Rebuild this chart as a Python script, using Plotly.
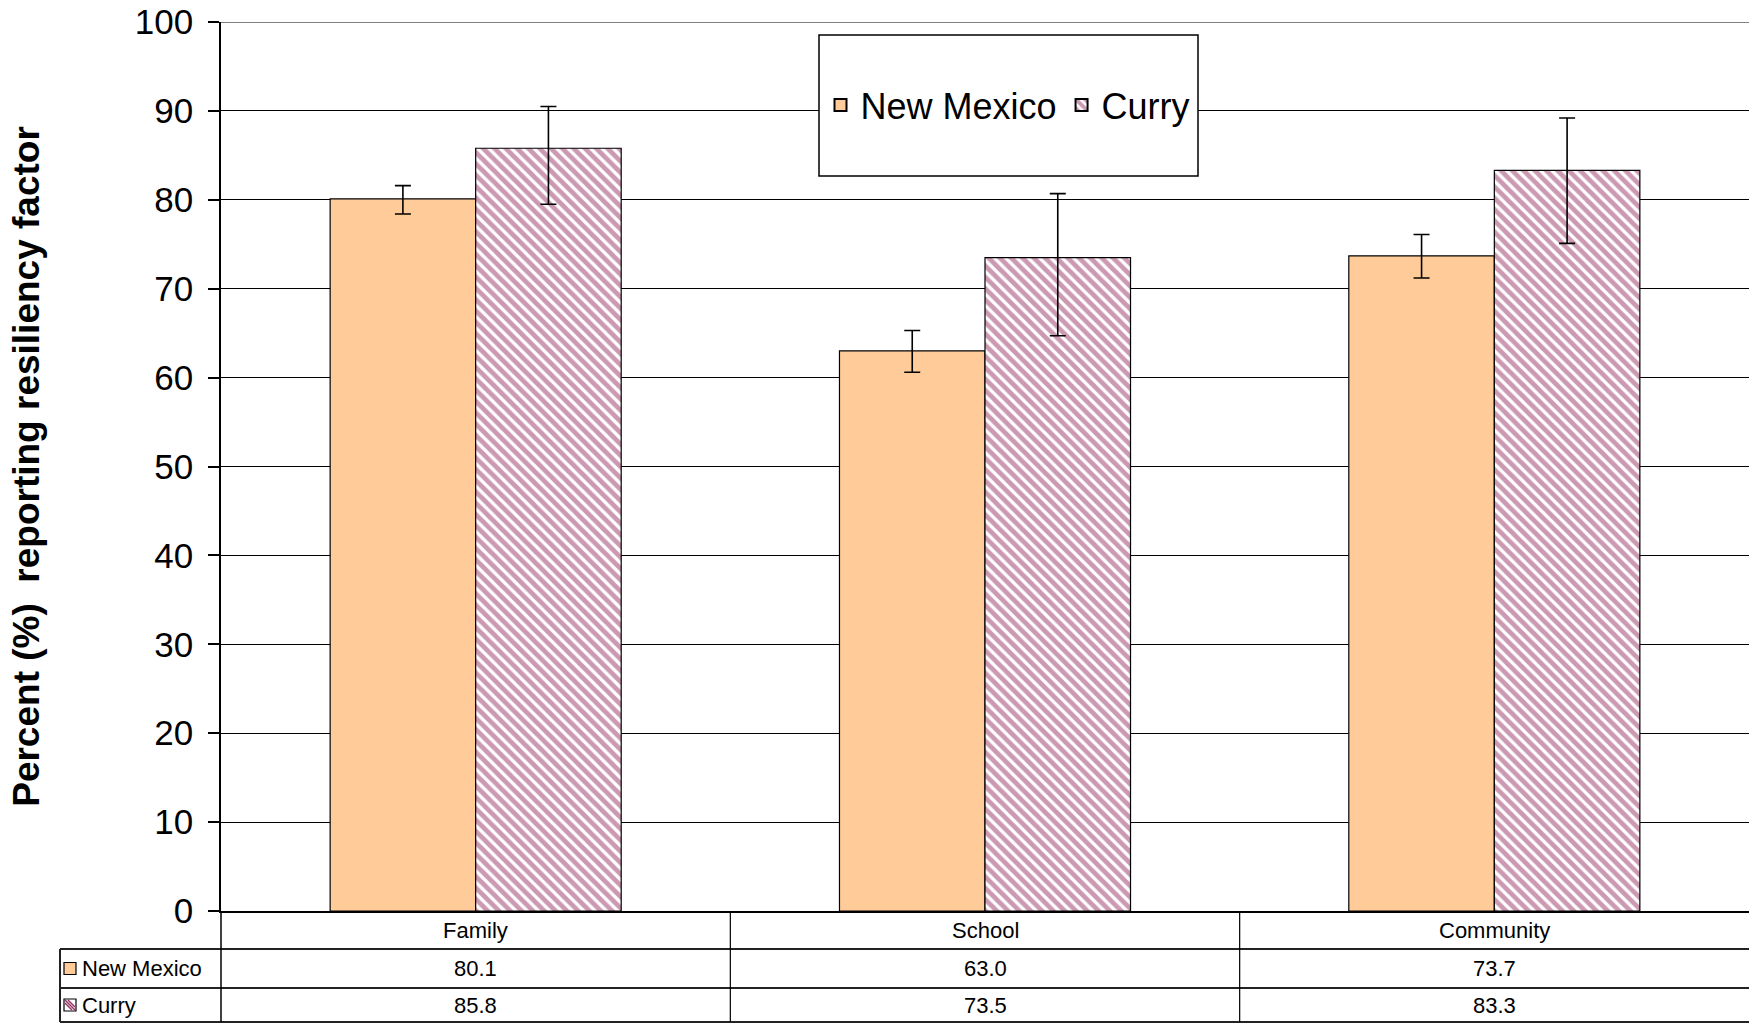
import plotly.graph_objects as go

# ---- data ----
categories = ["Family", "School", "Community"]
series_names = ["New Mexico", "Curry"]
nm_values = [80.1, 63.0, 73.7]
curry_values = [85.8, 73.5, 83.3]
nm_upper = [81.6, 65.3, 76.1]
nm_lower = [78.4, 60.6, 71.2]
curry_upper = [90.5, 80.7, 89.2]
curry_lower = [79.5, 64.7, 75.1]
y_ticks = [0, 10, 20, 30, 40, 50, 60, 70, 80, 90, 100]

# ---- layout constants (pixels) ----
W, H = 1749, 1024
L, R, T, B = 221, 0, 22, 113
PW = W - L - R
PH = H - T - B
FONT = "Liberation Sans, Arial, sans-serif"
NM_COLOR = "#FFCC99"
CURRY_COLOR = "#993366"


def px_x(x):
    return (x - L) / PW


def px_y(y):
    return (H - B - y) / PH


fig = go.Figure()

fig.add_trace(go.Bar(
    x=categories, y=nm_values, name=series_names[0],
    marker=dict(color=NM_COLOR, line=dict(color="black", width=1.2)),
    error_y=dict(type="data", symmetric=False,
                 array=[u - v for u, v in zip(nm_upper, nm_values)],
                 arrayminus=[v - l for v, l in zip(nm_values, nm_lower)],
                 color="black", thickness=1.6, width=8),
))
fig.add_trace(go.Bar(
    x=categories, y=curry_values, name=series_names[1],
    marker=dict(color="white", line=dict(color="black", width=1.2),
                pattern=dict(shape="\\", fgcolor=CURRY_COLOR, bgcolor="white",
                             size=8, solidity=0.6)),
    error_y=dict(type="data", symmetric=False,
                 array=[u - v for u, v in zip(curry_upper, curry_values)],
                 arrayminus=[v - l for v, l in zip(curry_values, curry_lower)],
                 color="black", thickness=1.6, width=8),
))

shapes = []
annotations = []

# gray top border at 100
shapes.append(dict(type="line", xref="paper", yref="y", x0=0, x1=1, y0=100, y1=100,
                   line=dict(color="#808080", width=2), layer="above"))

# legend box
shapes.append(dict(type="rect", xref="paper", yref="paper",
                   x0=px_x(819), x1=px_x(1198), y0=px_y(176), y1=px_y(35),
                   fillcolor="white", line=dict(color="black", width=1.5), layer="above"))

# table lines
row_cat_bottom = 949
row_nm_bottom = 988
row_cu_bottom = 1022
line_style = dict(color="#222222", width=2)
for yy in [row_cat_bottom, row_nm_bottom, row_cu_bottom]:
    shapes.append(dict(type="line", xref="paper", yref="paper",
                       x0=px_x(60), x1=1, y0=px_y(yy), y1=px_y(yy), line=line_style))
# left border of row-label column
shapes.append(dict(type="line", xref="paper", yref="paper",
                   x0=px_x(60), x1=px_x(60), y0=px_y(row_cat_bottom), y1=px_y(row_cu_bottom),
                   line=line_style))
# axis extension through table
shapes.append(dict(type="line", xref="paper", yref="paper",
                   x0=0, x1=0, y0=0, y1=px_y(row_cu_bottom), line=dict(color="black", width=1.5)))
# category boundaries
for i in range(1, len(categories)):
    shapes.append(dict(type="line", xref="x", yref="paper",
                       x0=i - 0.5, x1=i - 0.5, y0=0, y1=px_y(row_cu_bottom),
                       line=dict(color="black", width=1.2)))

# table text
cat_y = px_y((911 + row_cat_bottom) / 2)
nm_y = px_y((row_cat_bottom + row_nm_bottom) / 2)
cu_y = px_y((row_nm_bottom + row_cu_bottom) / 2)
for i, c in enumerate(categories):
    annotations.append(dict(x=c, y=cat_y, xref="x", yref="paper", text=c, showarrow=False,
                            font=dict(family=FONT, size=22, color="black"),
                            xanchor="center", yanchor="middle"))
    annotations.append(dict(x=c, y=nm_y, xref="x", yref="paper", text=f"{nm_values[i]:.1f}",
                            showarrow=False, font=dict(family=FONT, size=22, color="black"),
                            xanchor="center", yanchor="middle"))
    annotations.append(dict(x=c, y=cu_y, xref="x", yref="paper", text=f"{curry_values[i]:.1f}",
                            showarrow=False, font=dict(family=FONT, size=22, color="black"),
                            xanchor="center", yanchor="middle"))

# row labels with swatches
for name, yc in zip(series_names, [nm_y, cu_y]):
    annotations.append(dict(x=px_x(80), y=yc, xref="paper", yref="paper", text=name,
                            showarrow=False, font=dict(family=FONT, size=22, color="black"),
                            xanchor="left", yanchor="middle"))
sw = 6
ycen_nm = (row_cat_bottom + row_nm_bottom) / 2
ycen_cu = (row_nm_bottom + row_cu_bottom) / 2
sx0, sx1 = 64, 76
shapes.append(dict(type="rect", xref="paper", yref="paper",
                   x0=px_x(sx0), x1=px_x(sx1), y0=px_y(ycen_nm + sw), y1=px_y(ycen_nm - sw),
                   fillcolor=NM_COLOR, line=dict(color="black", width=1.2)))
shapes.append(dict(type="rect", xref="paper", yref="paper",
                   x0=px_x(sx0), x1=px_x(sx1), y0=px_y(ycen_cu + sw), y1=px_y(ycen_cu - sw),
                   fillcolor="white", line=dict(color="black", width=1.2)))
for d in [-3, 0, 3]:
    shapes.append(dict(type="line", xref="paper", yref="paper",
                       x0=px_x(sx0 + 1 + max(d, 0)), x1=px_x(sx1 - 1 - max(-d, 0)),
                       y0=px_y(ycen_cu - 5 + max(-d, 0)), y1=px_y(ycen_cu + 5 - max(d, 0)),
                       line=dict(color=CURRY_COLOR, width=1.5)))

fig.update_layout(
    width=W, height=H,
    margin=dict(l=L, r=R, t=T, b=B, pad=0),
    paper_bgcolor="white", plot_bgcolor="white",
    barmode="group", bargap=1.5 / 3.5, bargroupgap=0,
    font=dict(family=FONT, color="black"),
    showlegend=True,
    legend=dict(orientation="h", x=px_x(1008), y=px_y(105), xanchor="center", yanchor="middle",
                bgcolor="rgba(0,0,0,0)", borderwidth=0,
                font=dict(family=FONT, size=36, color="black"),
                itemsizing="constant"),
    shapes=shapes, annotations=annotations,
    xaxis=dict(range=[-0.5, 2.5], showticklabels=False, ticks="", showgrid=False,
               showline=True, linecolor="black", linewidth=1.5, zeroline=False),
    yaxis=dict(range=[0, 100], tickvals=y_ticks, ticks="outside", ticklen=11, tickwidth=1.5,
               tickcolor="black", showline=True, linecolor="black", linewidth=1.5,
               showgrid=True, gridcolor="black", gridwidth=1, zeroline=False,
               tickfont=dict(family=FONT, size=35, color="black"),
               ticklabelstandoff=8,
               title=dict(text="Percent (%)  reporting resiliency factor",
                          font=dict(family=FONT, size=37, color="black", weight="bold"),
                          standoff=84)),
)

fig.write_html("out.html", config={"displayModeBar": False})

# remove default page margin so the figure sits at the window origin
with open("out.html", "r", encoding="utf-8") as f:
    html = f.read()
html = html.replace("<head>", "<head><style>html,body{margin:0;padding:0;overflow:hidden;}</style>", 1)
with open("out.html", "w", encoding="utf-8") as f:
    f.write(html)
